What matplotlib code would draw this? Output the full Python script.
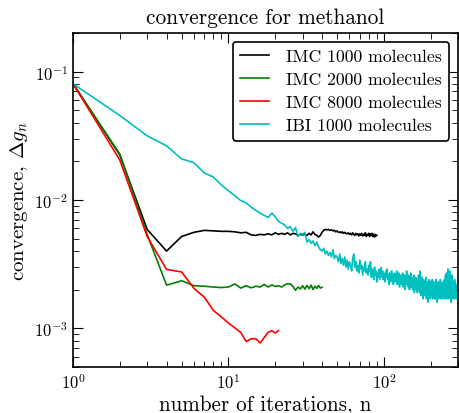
"""Convergence of IMC and IBI runs for methanol."""

# ---------- Imports ---------- #
import numpy as np
import matplotlib

matplotlib.use("Agg")
import matplotlib.pyplot as plt

# ---------- Style ---------- #
plt.rcParams["font.family"] = "serif"
plt.rcParams["font.serif"] = ["cmr10", "DejaVu Serif"]
plt.rcParams["mathtext.fontset"] = "cm"
plt.rcParams["axes.formatter.use_mathtext"] = True
plt.rcParams["axes.unicode_minus"] = False

# ---------- Data (values in units of 1e-4) ---------- #
imc1000 = [
    805, 225, 59, 40, 52, 56, 58, 57.5, 57, 57,
    56.5, 55.5, 56, 53.5, 53, 54, 53.5, 54.5, 53.5, 55.5,
    54, 55, 54, 55.5, 53.5, 55, 54.5, 53, 54, 53.5,
    54, 53, 55, 53.5, 56.5, 54, 53, 51.5, 53, 56,
    58, 59, 58.5, 59, 58, 58.5, 57.5, 58, 56.5, 57.5,
    56, 56.5, 55.5, 56.5, 55, 56, 55, 54.5, 55.5, 54,
    55, 53.5, 55.5, 54, 53, 55, 53.5, 54.5, 52.5, 54.5,
    53, 55, 52.5, 54, 53, 55.5, 52, 54, 53, 55,
    52, 54.5, 53, 55, 52, 54, 51.5, 54, 52.5, 53,
]
imc2000 = [
    805, 228, 54, 21.7, 23.5, 21.5, 21.3, 21, 20.8, 21,
    22.2, 20.6, 21.5, 20.7, 21.3, 21, 22, 21, 21.8, 21.2,
    21.5, 21, 21.8, 22.3, 22.2, 21.2, 19.8, 21, 20.3, 21.5,
    20.2, 21.6, 20.4, 21.7, 20.1, 21.3, 20.5, 21.6, 20.6, 20.9,
]
imc8000 = [
    805, 205, 52, 28.8, 27.5, 20.5, 17.5, 13.8, 12.3, 11.0,
    10.1, 9.3, 7.9, 8.3, 8.3, 7.7, 8.5, 9.3, 9.6, 9.2, 9.6,
]
ibi1000 = [
    805, 455, 316, 264, 209, 195, 162, 151, 131, 118,
    108, 99, 95, 88, 83, 79, 76, 73, 79, 74,
    68, 66, 64, 60, 62, 57, 61, 52, 55, 54,
    56, 47, 49, 46, 48, 44, 47, 43, 41, 40,
    42, 38, 40, 37, 39, 36, 41, 35, 37, 36,
    33, 38, 32, 35, 31, 36, 30, 34, 29, 33,
    31, 28, 35, 38, 30, 33, 28, 31, 27, 34,
    29, 31, 26, 30, 28, 33, 27, 29, 26, 31,
    28, 33, 25, 29, 27, 24, 30, 26, 28, 23,
    27, 25, 29, 24, 27, 30, 25, 28, 24, 27,
    26, 23, 28, 25, 29, 24, 26, 22, 27, 25,
    23, 28, 24, 26, 22, 25, 27, 23, 26, 24,
    28, 22, 25, 23, 27, 21, 24, 26, 22, 25,
    23, 27, 21, 24, 22, 26, 20, 25, 23, 28,
    22, 24, 21, 26, 23, 20, 25, 22, 27, 21,
    23, 25, 20, 24, 22, 26, 19, 23, 21, 25,
    22, 20, 24, 19, 23, 21, 26, 20, 22, 19,
    28, 21, 18, 23, 20, 25, 19, 22, 17, 24,
    21, 19, 23, 18, 22, 20, 25, 17, 21, 19,
    23, 16, 20, 22, 18, 24, 19, 21, 17, 23,
    20, 18, 22, 19, 24, 17, 21, 19, 23, 18,
    20, 22, 17, 21, 19, 24, 18, 20, 16, 22,
    19, 21, 18, 23, 17, 20, 22, 18, 21, 19,
    24, 17, 20, 18, 22, 19, 21, 17, 23, 19,
    20, 18, 22, 19, 24, 17, 21, 18, 26, 19,
    22, 17, 27, 20, 18, 23, 19, 29, 17, 22,
    20, 25, 18, 21, 19, 28, 17, 22, 20, 16,
    24, 19, 21, 18, 26, 17, 22, 19, 21, 18,
    23, 19, 21, 17, 24, 20, 22, 18, 21, 19,
    20, 17, 22, 18, 20, 19, 21, 18, 19, 19,
]

series = [
    ("IMC 1000 molecules", imc1000, "k"),
    ("IMC 2000 molecules", imc2000, "g"),
    ("IMC 8000 molecules", imc8000, "r"),
    ("IBI 1000 molecules", ibi1000, "c"),
]


# ---------- Plot ---------- #
def main():
    fig = plt.figure(figsize=(4.59, 4.14), dpi=100)
    ax = fig.add_axes([0.159, 0.111, 0.839, 0.807])

    for label, values, color in series:
        y = np.array(values) * 1e-4
        n = np.arange(1, len(y) + 1)
        ax.plot(n, y, color=color, lw=1.2, label=label)

    ax.set_xscale("log")
    ax.set_yscale("log")
    ax.set_xlim(1, 300)
    ax.set_ylim(5e-4, 0.2)

    ax.tick_params(which="both", direction="in", top=True, right=True, labelsize=12)
    ax.tick_params(which="major", length=7, width=0.8)
    ax.tick_params(which="minor", length=4, width=0.6)
    for spine in ax.spines.values():
        spine.set_linewidth(1.2)

    ax.set_title("convergence for methanol", fontsize=15.4, pad=7)
    ax.set_xlabel("number of iterations, n", fontsize=15.2, labelpad=2)
    ax.set_ylabel(r"convergence, $\Delta g_n$", fontsize=15, labelpad=3)

    leg = ax.legend(loc="upper right", fontsize=12.7, handlelength=1.65,
                    handletextpad=1.0, labelspacing=0.44, borderaxespad=0.5,
                    fancybox=True)
    leg.get_frame().set_edgecolor("k")
    leg.get_frame().set_linewidth(1.2)
    leg.get_frame().set_alpha(1)

    fig.savefig("out.png", dpi=100)
    plt.close(fig)
    return 0


if __name__ == "__main__":
    main()
